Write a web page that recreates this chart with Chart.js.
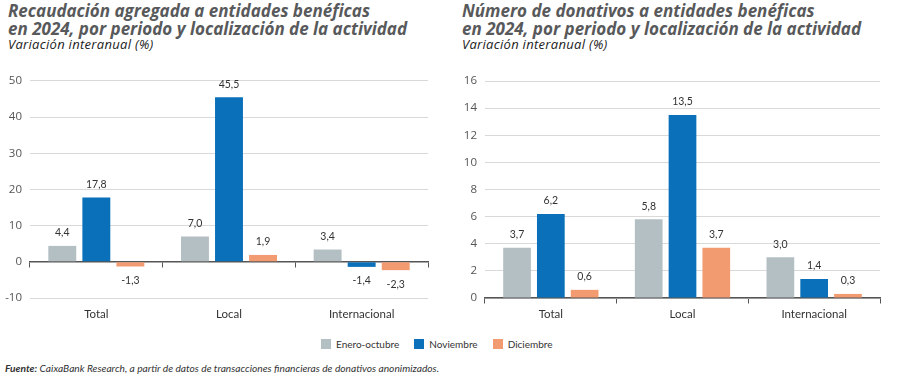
<!DOCTYPE html>
<html>
<head>
<meta charset="utf-8">
<script src="https://cdn.jsdelivr.net/npm/chart.js@4.4.1/dist/chart.umd.min.js"></script>
<style>
  body { margin: 0; width: 900px; height: 383px; background: #fff; position: relative; overflow: hidden; font-family: Lato, sans-serif; }
  .title { position: absolute; top: 2px; font-family: "Open Sans", sans-serif; font-weight: 700; font-style: italic; font-size: 17px; line-height: 17.5px; color: #58595b; white-space: nowrap; }
  .sub { position: absolute; top: 34.5px; font-family: "Open Sans", sans-serif; font-style: italic; font-size: 13px; line-height: 19px; letter-spacing: 0.3px; color: #222; white-space: nowrap; }
  .box { position: absolute; top: 66px; height: 260px; }
  .legend { position: absolute; top: 338px; left: 321px; font-family: Lato, sans-serif; font-size: 10px; color: #333; white-space: nowrap; }
  .legend span.item { display: inline-block; margin-right: 15px; }
  .legend i { display: inline-block; width: 10px; height: 10px; vertical-align: -1px; margin-right: 5px; }
  .foot { position: absolute; top: 362px; left: 5px; font-family: Lato, sans-serif; font-size: 10.2px; font-style: italic; color: #333; white-space: nowrap; }
</style>
</head>
<body>
<div class="title" style="left:8px">Recaudación agregada a entidades benéficas<br>en 2024, por periodo y localización de la actividad</div>
<div class="sub" style="left:8px">Variación interanual (%)</div>
<div class="title" style="left:462px">Número de donativos a entidades benéficas<br>en 2024, por periodo y localización de la actividad</div>
<div class="sub" style="left:462px">Variación interanual (%)</div>

<div class="box" style="left:0;width:450px"><canvas id="c1"></canvas></div>
<div class="box" style="left:450px;width:450px"><canvas id="c2"></canvas></div>

<div class="legend" id="legend"></div>
<div class="foot"><b>Fuente:</b> CaixaBank Research, a partir de datos de transacciones financieras de donativos anonimizados.</div>

<script>
const categories = ["Total", "Local", "Internacional"];
const seriesNames = ["Enero-octubre", "Noviembre", "Diciembre"];
const seriesColors = ["#b4bfc3", "#0a70b9", "#f39b70"];

// Recaudación agregada
const recaudacionEneOct = [4.4, 7.0, 3.4];
const recaudacionNov = [17.8, 45.5, -1.4];
const recaudacionDic = [-1.3, 1.9, -2.3];

// Número de donativos
const donativosEneOct = [3.7, 5.8, 3.0];
const donativosNov = [6.2, 13.5, 1.4];
const donativosDic = [0.6, 3.7, 0.3];

const textColor = "#333";
const gridColor = "#d9d9d9";
const axisColor = "#555";

const valueLabels = {
  id: "valueLabels",
  afterDatasetsDraw(chart) {
    const ctx = chart.ctx;
    ctx.save();
    ctx.font = "10.5px Lato, sans-serif";
    ctx.fillStyle = textColor;
    ctx.textAlign = "center";
    ctx.textBaseline = "middle";
    chart.data.datasets.forEach((ds, di) => {
      const meta = chart.getDatasetMeta(di);
      meta.data.forEach((bar, i) => {
        const v = ds.data[i];
        const txt = v.toFixed(1).replace(".", ",");
        const y = v >= 0 ? bar.y - 13 : bar.y + 14;
        ctx.fillText(txt, bar.x, y);
      });
    });
    ctx.restore();
  }
};

function buildChart(canvasId, values, yOpts, pad) {
  const datasets = values.map((data, i) => ({
    label: seriesNames[i],
    data,
    backgroundColor: seriesColors[i],
    borderWidth: 0,
    categoryPercentage: 0.77,
    barPercentage: 0.82
  }));

  return new Chart(document.getElementById(canvasId), {
    type: "bar",
    data: { labels: categories, datasets },
    options: {
      responsive: true,
      maintainAspectRatio: false,
      animation: false,
      layout: { padding: pad },
      plugins: { legend: { display: false }, tooltip: { enabled: false } },
      scales: {
        x: {
          grid: { display: false },
          border: { display: false },
          ticks: { color: textColor, font: { size: 11.5, family: "Lato, sans-serif" }, padding: 1 },
          afterFit: (s) => { s.height = 28; }
        },
        x2: {
          type: "category",
          position: { y: 0 },
          offset: true,
          z: 1,
          grid: { offset: true, drawOnChartArea: false, tickLength: 5, color: axisColor, lineWidth: 1 },
          border: { color: axisColor, width: 1.5 },
          ticks: { display: false }
        },
        y: {
          min: yOpts.min,
          max: yOpts.max,
          grid: { color: gridColor, drawTicks: false },
          border: { display: false },
          ticks: { stepSize: yOpts.step, color: "#555", font: { size: 11.5, family: "'Open Sans', sans-serif" }, padding: 8 },
          afterFit: (s) => { s.width = yOpts.width; }
        }
      }
    },
    plugins: [valueLabels]
  });
}

buildChart("c1", [recaudacionEneOct, recaudacionNov, recaudacionDic],
  { min: -10, max: 50, step: 10, width: 30 }, { top: 13, right: 22, left: 0, bottom: 0 });
buildChart("c2", [donativosEneOct, donativosNov, donativosDic],
  { min: 0, max: 16, step: 2, width: 35 }, { top: 15, right: 20, left: 0, bottom: 0 });

document.getElementById("legend").innerHTML = seriesNames
  .map((n, i) => `<span class="item"><i style="background:${seriesColors[i]}"></i>${n}</span>`)
  .join("");
</script>
</body>
</html>
